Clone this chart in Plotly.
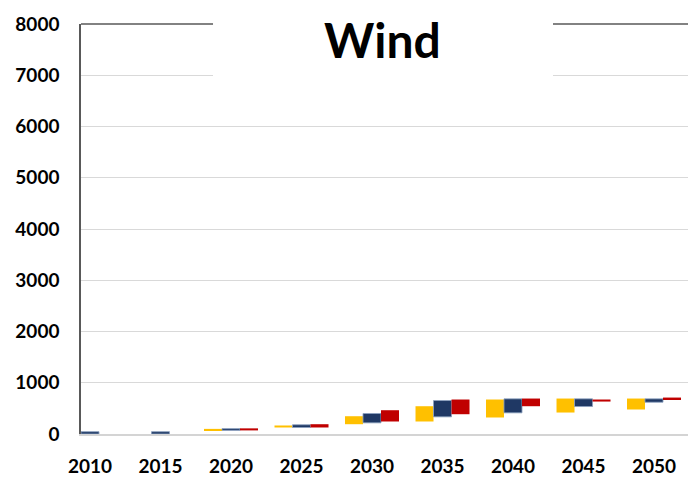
import plotly.graph_objects as go

# Installed wind capacity ranges per scenario (low / high end of each bar)
years = [2010, 2015, 2020, 2025, 2030, 2035, 2040, 2045, 2050]
tick_labels = [str(y) for y in years]

yellow_low = [None, None, 70, 127, 191, 244, 322, 419, 478]
yellow_high = [None, None, 100, 166, 347, 542, 673, 692, 692]

navy_low = [0, 0, 70, 127, 218, 335, 413, 536, 620]
navy_high = [45, 45, 105, 180, 400, 653, 686, 686, 686]

red_low = [None, None, 70, 127, 244, 386, 542, 633, 673]
red_high = [None, None, 110, 191, 464, 673, 692, 673, 711]

y_ticks = [0, 1000, 2000, 3000, 4000, 5000, 6000, 7000, 8000]


def span(low, high):
    return [None if (a is None or b is None) else b - a for a, b in zip(low, high)]


fig = go.Figure()
series = [
    ("Scenario A", yellow_low, yellow_high, "#FFC000", "rgba(0,0,0,0)", 0),
    ("Scenario B", navy_low, navy_high, "#1F3864", "rgba(140,160,190,0.85)", 1),
    ("Scenario C", red_low, red_high, "#C00000", "rgba(0,0,0,0)", 0),
]
for name, low, high, color, line_color, line_w in series:
    fig.add_trace(go.Bar(
        x=years,
        y=span(low, high),
        base=low,
        name=name,
        marker=dict(color=color, line=dict(color=line_color, width=line_w)),
    ))

tick_font = dict(family="Lato", size=19, color="#000000", weight="bold")

fig.update_layout(
    width=688,
    height=478,
    margin=dict(l=81, r=0, t=24, b=44),
    paper_bgcolor="white",
    plot_bgcolor="white",
    barmode="group",
    bargap=0.234,
    bargroupgap=0,
    showlegend=False,
    xaxis=dict(
        range=[2009.362, 2052.41],
        tickvals=years,
        ticktext=tick_labels,
        tickfont=tick_font,
        showgrid=False,
        zeroline=False,
        showline=True,
        linecolor="#D4D4D4",
        linewidth=2,
        ticks="outside",
        ticklen=14,
        tickcolor="rgba(0,0,0,0)",
        automargin=False,
    ),
    yaxis=dict(
        range=[0, 8000],
        tickvals=y_ticks,
        tickfont=tick_font,
        showgrid=True,
        gridcolor="#D9D9D9",
        gridwidth=1,
        zeroline=False,
        showline=True,
        linecolor="#595959",
        linewidth=1.5,
        ticks="",
        ticklabelstandoff=16,
        automargin=False,
    ),
    shapes=[
        # top frame line
        dict(type="line", xref="paper", yref="paper", x0=0, x1=1, y0=1, y1=1,
             line=dict(color="#595959", width=1.5)),
        # white box behind the title
        dict(type="rect", xref="paper", yref="paper",
             x0=0.2175, x1=0.7776, y0=0.8636, y1=1.06,
             fillcolor="white", line=dict(width=0)),
    ],
    annotations=[
        dict(text="Wind", xref="paper", yref="paper", x=0.4975, y=0.961,
             xanchor="center", yanchor="middle", showarrow=False,
             font=dict(family="Lato", size=48, color="#000000", weight="bold")),
    ],
)

fig.write_html("out.html")
